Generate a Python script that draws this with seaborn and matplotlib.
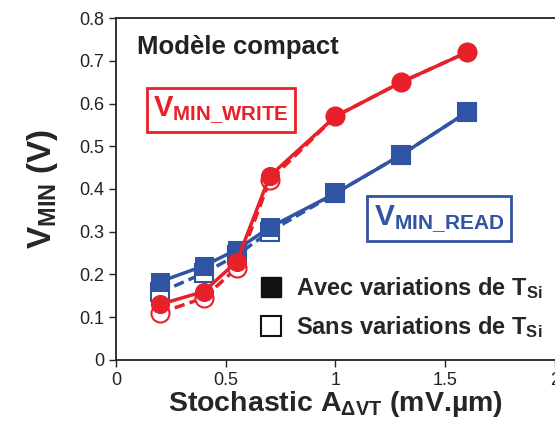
import matplotlib.pyplot as plt
from matplotlib.lines import Line2D
import seaborn as sns

sns.set_style('white')
plt.rcParams['font.family'] = ['Liberation Sans', 'DejaVu Sans']
plt.rcParams['mathtext.fontset'] = 'custom'
plt.rcParams['mathtext.rm'] = 'Liberation Sans'
plt.rcParams['mathtext.bf'] = 'Liberation Sans:bold'
plt.rcParams['mathtext.it'] = 'Liberation Sans:italic'

# données
a_vt = [0.2, 0.4, 0.55, 0.7, 1.0, 1.3, 1.6]
write_avec = [0.13, 0.16, 0.23, 0.43, 0.57, 0.65, 0.72]
write_sans = [0.11, 0.145, 0.215, 0.42, 0.57, 0.65, 0.72]
read_avec = [0.183, 0.22, 0.258, 0.31, 0.39, 0.48, 0.58]
read_sans = [0.158, 0.203, 0.245, 0.30, 0.39, 0.48, 0.58]

rouge = '#E8202A'
bleu = '#3153A3'

fig = plt.figure(figsize=(5.55, 4.30), dpi=100)
ax = fig.add_axes([0.209, 0.163, 0.791, 0.795])

# courbes sans variations (pointillés, symboles vides) dessous
sns.lineplot(x=a_vt, y=read_sans, ax=ax, color=bleu, lw=2.5, ls=(0, (3, 1.5)),
             marker='s', ms=13, mfc='white', mec=bleu, mew=1.5)
sns.lineplot(x=a_vt, y=write_sans, ax=ax, color=rouge, lw=2.5, ls=(0, (3, 1.5)),
             marker='o', ms=13, mfc='white', mec=rouge, mew=1.5)
# courbes avec variations (traits pleins, symboles pleins)
sns.lineplot(x=a_vt, y=read_avec, ax=ax, color=bleu, lw=2.5,
             marker='s', ms=13, mfc=bleu, mec=bleu)
sns.lineplot(x=a_vt, y=write_avec, ax=ax, color=rouge, lw=2.5,
             marker='o', ms=13, mfc=rouge, mec=rouge)

ax.set_xlim(0, 2)
ax.set_ylim(0, 0.8)
ax.set_xticks([0, 0.5, 1, 1.5, 2])
ax.set_xticklabels(['0', '0.5', '1', '1.5', '2'])
ax.set_yticks([0, 0.1, 0.2, 0.3, 0.4, 0.5, 0.6, 0.7, 0.8])
ax.set_yticklabels(['0', '0.1', '0.2', '0.3', '0.4', '0.5', '0.6', '0.7', '0.8'])
ax.tick_params(axis='both', direction='out', length=5, width=1, labelsize=13,
               colors='#222222', left=True, bottom=True)
for s in ax.spines.values():
    s.set_color('#222222')
    s.set_linewidth(1.3)
ax.spines['right'].set_visible(False)

ax.set_xlabel(r'Stochastic A$_{\mathbf{\Delta VT}}$ (mV.µm)', fontsize=20.5,
              fontweight='bold', labelpad=0)
ax.set_ylabel(r'V$_{\mathbf{MIN}}$ (V)', fontsize=24, fontweight='bold', labelpad=14)

ax.text(0.095, 0.715, 'Modèle compact', fontsize=18.5, fontweight='bold', color='#222222')

ax.text(0.17, 0.585, r'V$_{\mathbf{MIN\_WRITE}}$', fontsize=21, fontweight='bold',
        color=rouge, va='center',
        bbox=dict(boxstyle='square,pad=0.22', fc='white', ec=rouge, lw=2))
ax.text(1.175, 0.33, r'V$_{\mathbf{MIN\_READ}}$', fontsize=21.5, fontweight='bold',
        color=bleu, va='center',
        bbox=dict(boxstyle='square,pad=0.22', fc='white', ec=bleu, lw=2))

handles = [
    Line2D([], [], ls='none', marker='s', ms=15, mfc='#111111', mec='#111111'),
    Line2D([], [], ls='none', marker='s', ms=15, mfc='white', mec='#111111', mew=1.5),
]
labels = [r'Avec variations de T$_{\mathbf{Si}}$', r'Sans variations de T$_{\mathbf{Si}}$']
ax.legend(handles, labels, loc='lower right', bbox_to_anchor=(1.02, -0.005),
          frameon=False, handletextpad=0.35, labelspacing=0.55, handlelength=1.4,
          prop={'weight': 'bold', 'size': 17})

fig.savefig('out.png', dpi=100)
